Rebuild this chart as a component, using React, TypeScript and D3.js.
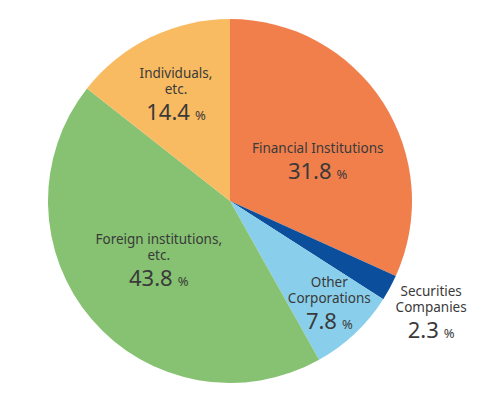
import { useEffect, useRef } from 'react';
import * as d3 from 'd3';

// shareholder distribution (%), clockwise from 12 o'clock
const categories = [
  'Financial Institutions',
  'Securities Companies',
  'Other Corporations',
  'Foreign institutions, etc.',
  'Individuals, etc.',
];
const shares = [31.8, 2.3, 7.8, 43.8, 14.4];
const colors = ['#F07F4C', '#0B4F9C', '#89CFEB', '#86C271', '#F9BB62'];
// label lines as printed
const labelLines = [
  ['Financial Institutions'],
  ['Securities', 'Companies'],
  ['Other', 'Corporations'],
  ['Foreign institutions,', 'etc.'],
  ['Individuals,', 'etc.'],
];

export default function App() {
  const svgRef = useRef<SVGSVGElement>(null);

  useEffect(() => {
    if (!svgRef.current) return;
    const svg = d3.select(svgRef.current);
    svg.selectAll('*').remove();

    const width = 480;
    const height = 400;
    const cx = 230;
    const cy = 201;
    const radius = 182;

    const data = categories.map((c, i) => ({ name: c, value: shares[i], color: colors[i], lines: labelLines[i] }));

    const pie = d3.pie<any>().value(d => d.value).sort(null);
    const arc = d3.arc<any>().innerRadius(0).outerRadius(radius);
    const arcs = pie(data);

    const g = svg.append('g').attr('transform', `translate(${cx},${cy})`);

    g.selectAll('path')
      .data(arcs)
      .enter().append('path')
      .attr('d', arc)
      .attr('fill', d => d.data.color);

    // label block anchors: polar offset (deg clockwise from top, radius) per slice
    const labelPolar = [
      { angle: 66, r: 96 },
      { angle: 119, r: 230 },
      { angle: 136, r: 143 },
      { angle: 230, r: 93 },
      { angle: 333, r: 119 },
    ];
    const lineH = 16;
    const numGap = 25;

    arcs.forEach((a, i) => {
      const p = labelPolar[i];
      const rad = (p.angle * Math.PI) / 180;
      const x = Math.sin(rad) * p.r;
      const y = -Math.cos(rad) * p.r;
      const lines = a.data.lines as string[];
      const blockH = (lines.length - 1) * lineH + numGap;
      const top = y - blockH / 2 + 4;

      const t = g.append('g').attr('fill', '#3a3a3a').attr('font-family', "'Noto Sans', sans-serif");
      lines.forEach((ln, k) => {
        t.append('text')
          .attr('x', x)
          .attr('y', top + k * lineH)
          .attr('text-anchor', 'middle')
          .attr('font-size', '13.5px')
          .text(ln);
      });
      const num = t.append('text')
        .attr('x', x)
        .attr('y', top + (lines.length - 1) * lineH + numGap + 1)
        .attr('text-anchor', 'middle');
      num.append('tspan').attr('font-size', '22px').text(a.data.value.toFixed(1));
      num.append('tspan').attr('font-size', '13px').attr('dx', 5).text('%');
    });

    svg.attr('width', width).attr('height', height);
  }, []);

  return (
    <svg
      ref={svgRef}
      width={480}
      height={400}
      style={{ position: 'absolute', left: 0, top: 0, background: '#fff' }}
    />
  );
}
